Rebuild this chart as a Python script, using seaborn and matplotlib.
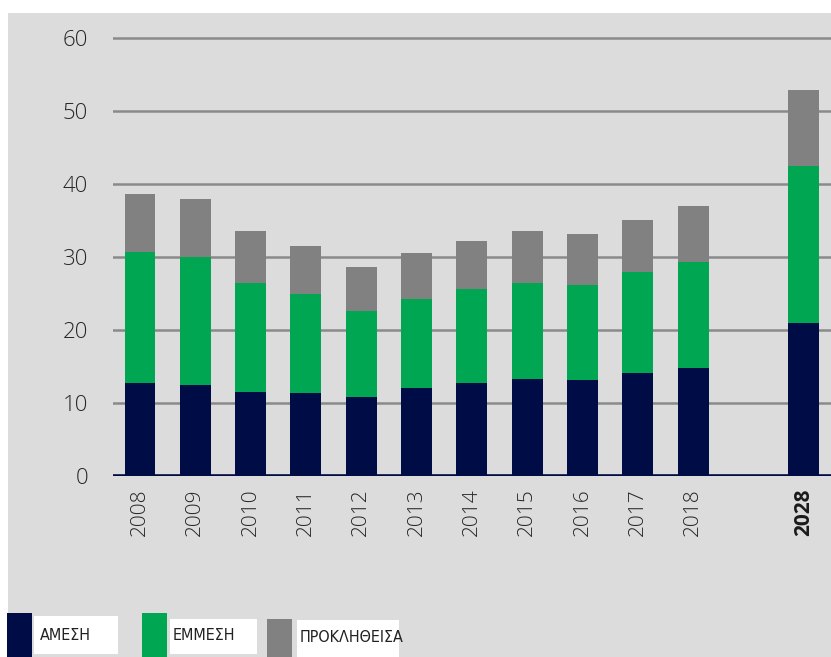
import numpy as np
import pandas as pd
import matplotlib
matplotlib.use("Agg")
import matplotlib.pyplot as plt
from matplotlib.patches import Rectangle
import seaborn as sns

# values
years = ['2008', '2009', '2010', '2011', '2012', '2013', '2014', '2015', '2016', '2017', '2018', '2028']
direct = [12.7, 12.5, 11.5, 11.4, 10.8, 12.0, 12.8, 13.3, 13.1, 14.1, 14.8, 21.0]
indirect = [18.0, 17.5, 15.0, 13.5, 11.8, 12.2, 12.8, 13.2, 13.1, 13.8, 14.5, 21.4]
induced = [7.9, 8.0, 7.1, 6.6, 6.0, 6.4, 6.6, 7.1, 7.0, 7.2, 7.7, 10.5]
legend_labels = ['ΑΜΕΣΗ', 'ΕΜΜΕΣΗ', 'ΠΡΟΚΛΗΘΕΙΣΑ']

# empty slot between 2018 and 2028
order = years[:-1] + [' '] + years[-1:]

NAVY = '#000c45'
GREEN = '#00a651'
GREY = '#818181'
BG = '#dcdcdc'

df = pd.DataFrame({'year': years, 'direct': direct, 'indirect': indirect, 'induced': induced})
df['lvl2'] = df['direct'] + df['indirect']
df['lvl3'] = df['lvl2'] + df['induced']

W, H = 831, 657
fig = plt.figure(figsize=(W / 100, H / 100), dpi=100)
fig.patch.set_facecolor('white')
fig.patches.append(Rectangle((8 / W, 0), 1, 1 - 13 / H, transform=fig.transFigure,
                             facecolor=BG, edgecolor='none', zorder=-10))

ax = fig.add_axes([113 / W, (H - 476) / H, 1 - 113 / W, (476 - 23.4) / H])
ax.set_facecolor('none')

# stacked bars drawn as cumulative layers
for col, c in [('lvl3', GREY), ('lvl2', GREEN), ('direct', NAVY)]:
    sns.barplot(data=df, x='year', y=col, order=order, color=c, saturation=1,
                width=0.56, ax=ax, zorder=3)

ax.set_xlim(-0.488, 12.495)
ax.set_ylim(0, 62)
ax.set_yticks([0, 10, 20, 30, 40, 50, 60])
ax.yaxis.grid(True, color='#8a8a8a', lw=1.8)
ax.xaxis.grid(False)
ax.set_axisbelow(True)
for s in ax.spines.values():
    s.set_visible(False)
ax.axhline(0, color=NAVY, lw=2.6, zorder=4)

ax.set_xlabel('')
ax.set_ylabel('')
ax.tick_params(axis='both', length=0, colors='#262626')
ax.tick_params(axis='y', pad=18, labelsize=16)
ax.tick_params(axis='x', pad=9, labelsize=15, rotation=90)
for t in ax.get_yticklabels() + ax.get_xticklabels():
    t.set_fontfamily('Open Sans')
    t.set_fontweight('light')
for t in ax.get_xticklabels():
    if t.get_text() == '2028':
        t.set_fontweight('bold')
        t.set_color('#1a1a1a')

# legend boxes at the bottom
def fr(x0, y0, x1, y1, color):
    fig.patches.append(Rectangle((x0 / W, 1 - y1 / H), (x1 - x0) / W, (y1 - y0) / H,
                                 transform=fig.transFigure, facecolor=color,
                                 edgecolor='none', zorder=1))

fr(7, 613, 32, 657, NAVY)
fr(34, 616, 118, 654, 'white')
fr(142, 613, 167, 657, GREEN)
fr(170, 619, 257, 654, 'white')
fr(267, 619, 292, 657, GREY)
fr(297, 620, 399, 657, 'white')
for lbl, x, y in zip(legend_labels, [40, 173, 300], [635, 636, 638]):
    fig.text(x / W, 1 - y / H, lbl, fontsize=11.5, color='#222222', va='center', ha='left',
             family='DejaVu Sans', fontstretch='condensed')

fig.savefig('out.png', dpi=100, facecolor=fig.get_facecolor())
